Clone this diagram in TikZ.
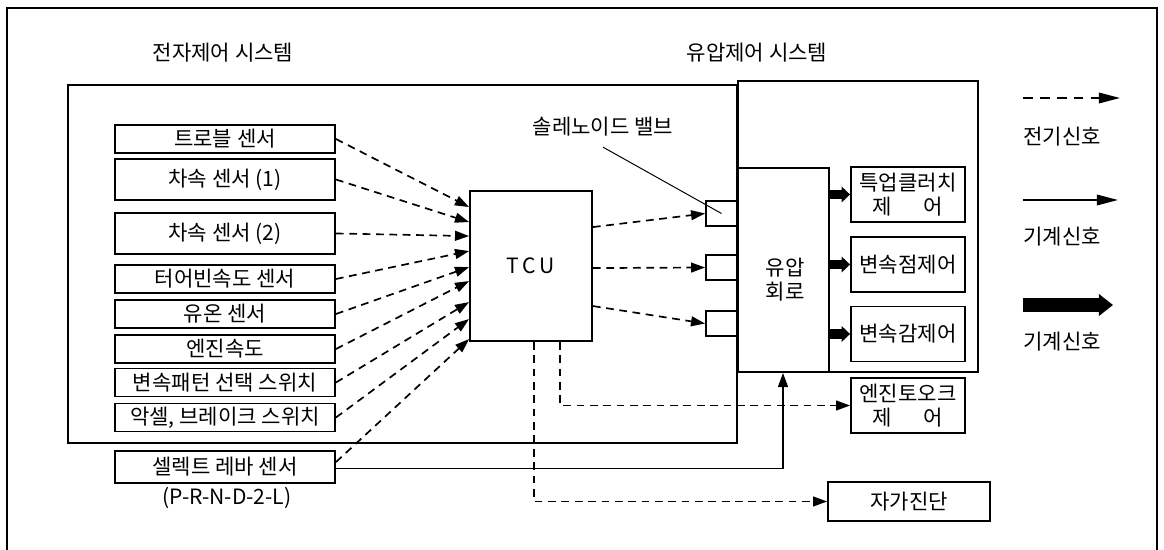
\documentclass[tikz,border=0pt]{standalone}
\usepackage{fontspec}
\setmainfont{Noto Sans CJK KR}
\usetikzlibrary{arrows.meta,calc}

\begin{document}
\begin{tikzpicture}[x=0.025cm,y=-0.025cm,
  every node/.style={font=\fontsize{15}{17}\selectfont,align=center},
  box/.style={draw,line width=1.3pt,inner sep=0pt},
  sensor/.style={box,minimum width=5.5cm,minimum height=0.7cm},
  ctrl/.style={box,minimum width=2.85cm,minimum height=1.375cm},
  valve/.style={box,minimum width=0.775cm,minimum height=0.625cm},
  elec/.style={line width=1.2pt,dash pattern=on 5.5pt off 4pt,-{Triangle[length=10pt,width=7pt]}},
  mech/.style={line width=1.2pt,-{Triangle[length=10pt,width=7pt]}},
  fat/.style={line width=6.5pt,-{Triangle[length=6pt,width=11pt]}},
  legtip/.style={-{Triangle[length=15pt,width=7.5pt]}}]
  \useasboundingbox (0,0) rectangle (1164,550);
  \draw[line width=0.8pt] (7,550) -- (7,8) -- (1157,8) -- (1157,550);

  % system titles and frames
  \node (ecutitle) at (223,53) {전자제어 시스템};
  \node (hydtitle) at (757,53) {유압제어 시스템};
  \draw[line width=1.3pt] (68,85) rectangle (737,443);
  \draw[line width=1.3pt] (738,81) rectangle (978,372);

  % sensors
  \node[sensor] (s1) at (225,139) {트로블 센서};
  \node[sensor,minimum height=1.025cm] (s2) at (225,179.5) {차속 센서 (1)};
  \node[sensor,minimum height=1.025cm] (s3) at (225,233.5) {차속 센서 (2)};
  \node[sensor] (s4) at (225,279) {터어빈속도 센서};
  \node[sensor] (s5) at (225,314) {유온 센서};
  \node[sensor] (s6) at (225,349) {엔진속도};
  \node[sensor] (s7) at (225,382.5) {변속패턴 선택 스위치};
  \node[sensor] (s8) at (225,417.5) {악셀, 브레이크 스위치};
  \node[sensor,minimum height=0.8cm] (sel) at (225,467) {셀렉트 레바 센서};
  \node (prnd) at (227,498) {(P-R-N-D-2-L)};

  % TCU and solenoid valves
  \node[box,minimum width=3.05cm,minimum height=3.75cm] (tcu) at (531,266) {T\,C\,U};
  \node[valve] (v1) at (721.5,213.5) {};
  \node[valve] (v2) at (721.5,267.5) {};
  \node[valve] (v3) at (721.5,323.5) {};
  \node (sol) at (603,127) {솔레노이드 밸브};
  \draw[line width=0.7pt] ([yshift=-4pt]sol.south) -- (v1.center);

  % hydraulic circuit and controls
  \node[box,minimum width=2.3cm,minimum height=5.1cm] (hc) at (783,270) {};
  \node (hclabel) at (785,280) {유압\\회로};
  \node[ctrl] (A) at (908,194.5) {특업클러치\\제\hspace{1.5em}어};
  \node[ctrl] (B) at (908,264.5) {변속점제어};
  \node[ctrl] (C) at (908,334) {변속감제어};
  \node[ctrl] (E) at (908,405.5) {엔진토오크\\제\hspace{1.5em}어};
  \node[box,minimum width=4.05cm,minimum height=0.975cm] (diag) at (909,501.5) {자가진단};

  % signals
  \foreach \s/\d in {s1/17,s2/32,s3/46,s4/61,s5/77,s6/91,s7/112,s8/129}
    \draw[elec] (\s.east) -- ($(tcu.north west)+(0,\d)$);
  \draw[elec] ([yshift=3.5pt]sel.east) -- ($(tcu.north west)+(0,149)$);
  \draw[elec] ($(tcu.north east)+(0,37)$) -- (v1.west);
  \draw[elec] ($(tcu.north east)+(0,78)$) -- (v2.west);
  \draw[elec] ($(tcu.north east)+(0,116)$) -- (v3.west);
  \draw[elec] ($(tcu.south)+(3,0)$) |- (diag.west);
  \draw[elec] ($(tcu.south)+(29,0)$) |- (E.west);
  \draw[mech] ([yshift=-1pt]sel.east) -| (hc.south);
  \foreach \c in {A,B,C}
    \draw[fat] (hc.east |- \c.west) -- (\c.west);

  % legend
  \coordinate (l1) at (1023,98);  \coordinate (l1e) at (1120,98);
  \coordinate (l2) at (1023,200); \coordinate (l2e) at (1118,200);
  \coordinate (l3) at (1023,305); \coordinate (l3e) at (1113,305);
  \draw[elec,legtip,dash pattern=on 7pt off 5pt] (l1) -- (l1e);
  \node (t1) at (1062,137) {전기신호};
  \draw[mech,legtip] (l2) -- (l2e);
  \node (t2) at (1062,237) {기계신호};
  \draw[line width=10pt,-{Triangle[length=10pt,width=15pt]}] (l3) -- (l3e);
  \node (t3) at (1062,342) {기계신호};
\end{tikzpicture}
\end{document}
